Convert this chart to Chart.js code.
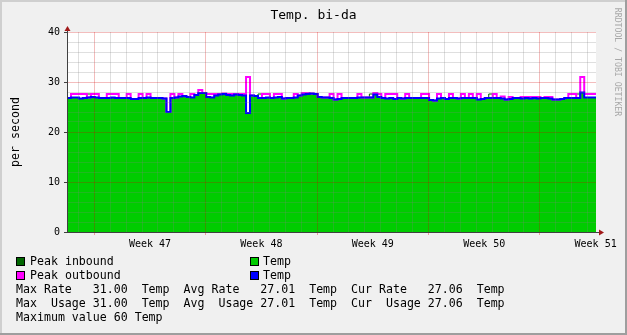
<!DOCTYPE html>
<html>
<head>
<meta charset="utf-8">
<title>Temp. bi-da</title>
<script src="https://cdn.jsdelivr.net/npm/chart.js@4.4.1/dist/chart.umd.min.js"></script>
<style>
  html, body { margin: 0; padding: 0; background: #f0f0f0; }
  canvas { display: block; }
</style>
</head>
<body>
<canvas id="tempChart" width="627" height="335"></canvas>
<script>
// one value per 6 hours (degrees)
const tempAvg = [
  26.8,26.9,26.9,26.7,26.8,26.9,27.0,26.9,26.8,26.8,
  26.8,26.9,26.8,26.8,26.8,26.8,26.6,26.6,26.8,26.8,
  26.9,26.8,26.8,26.8,26.7,24.0,26.8,26.9,27.1,27.2,
  27.0,26.9,27.4,27.8,27.8,27.0,26.9,27.3,27.5,27.6,
  27.4,27.3,27.5,27.4,27.3,23.8,27.3,27.2,26.8,26.8,
  26.9,26.8,26.9,27.0,26.7,26.8,26.8,26.9,27.3,27.5,
  27.6,27.7,27.6,27.0,26.9,26.9,26.8,26.5,26.6,26.8,
  26.8,26.8,26.8,26.9,26.9,26.9,26.9,27.5,27.0,26.8,
  26.7,26.8,26.6,26.8,26.7,26.8,26.8,26.8,26.8,26.8,
  26.8,26.4,26.3,26.7,26.8,26.6,26.8,26.8,26.7,26.8,
  26.8,26.8,26.8,26.5,26.6,26.8,26.8,26.8,26.8,26.7,
  26.5,26.6,26.8,26.8,26.7,26.8,26.7,26.8,26.7,26.8,
  26.8,26.7,26.5,26.5,26.6,26.8,26.8,26.8,26.8,27.9,
  26.9,26.9,26.9
];
const peakOut = [
  26.8,27.6,27.6,27.6,27.6,26.9,27.6,27.6,26.8,26.8,
  27.6,27.6,27.6,26.8,26.8,27.6,26.6,26.6,27.6,26.8,
  27.6,26.8,26.8,26.8,26.7,24.0,27.6,26.9,27.6,27.2,
  27.0,27.6,27.4,28.4,27.8,27.6,27.6,27.6,27.6,27.7,
  27.6,27.6,27.6,27.6,27.6,31.0,27.3,27.2,26.8,27.6,
  27.6,26.8,27.6,27.6,26.7,26.8,26.8,27.6,27.3,27.8,
  27.8,27.7,27.6,27.0,26.9,26.9,27.6,26.5,27.6,26.8,
  26.8,26.8,26.8,27.6,26.9,26.9,26.9,27.8,27.6,26.8,
  27.6,27.6,27.6,26.8,26.7,27.6,26.8,26.8,26.8,27.6,
  27.6,26.4,26.3,27.6,26.8,26.6,27.6,26.8,26.7,27.6,
  26.8,27.6,26.8,27.6,26.6,26.8,26.8,27.6,26.8,27.1,
  26.5,27.0,26.8,26.8,27.0,27.0,27.0,27.0,27.0,26.8,
  27.0,27.0,26.5,26.5,26.6,26.8,27.6,27.6,26.8,31.0,
  27.6,27.6,27.6
];
const peakIn = [
  26.8,26.9,26.9,26.7,26.8,27.6,27.0,26.9,26.8,26.8,
  26.8,26.9,26.8,26.8,26.8,26.8,26.6,26.6,26.8,26.8,
  26.9,26.8,26.8,26.8,26.7,24.0,26.8,26.9,27.1,27.2,
  27.0,26.9,27.4,27.8,27.8,27.0,26.9,27.3,27.5,27.6,
  27.4,27.3,27.5,27.4,27.3,23.8,27.3,27.2,27.6,26.8,
  26.9,26.8,26.9,27.0,26.7,26.8,26.8,26.9,27.3,27.5,
  27.6,27.7,27.6,27.0,26.9,26.9,26.8,26.5,26.6,26.8,
  26.8,26.8,26.8,26.9,26.9,26.9,27.6,27.5,27.0,26.8,
  26.7,26.8,26.6,26.8,26.7,26.8,26.8,26.8,26.8,26.8,
  26.8,26.4,26.3,26.7,26.8,26.6,26.8,26.8,26.7,26.8,
  26.8,26.8,26.8,26.5,26.6,26.8,27.6,26.8,26.8,26.7,
  26.5,26.6,26.8,26.8,26.7,26.8,26.7,26.8,26.7,26.8,
  26.8,26.7,26.5,26.5,26.6,26.8,26.8,26.8,27.6,27.9,
  26.9,26.9,26.9
];
const weekLabels = ['Week 47', 'Week 48', 'Week 49', 'Week 50', 'Week 51'];
const statNames = ['Max', 'Avg', 'Cur'];
const statValues = [31.00, 27.01, 27.06];
const maxValue = 60;

const stepDays = 0.25;      // sample spacing
const spanDays = 33.24;     // visible time range
const firstMonday = 1.715;  // first week line, in days from left edge

const toPoints = (arr) =>
  arr.map((v, i) => ({ x: i * stepDays, y: v })).concat([{ x: spanDays, y: arr[arr.length - 1] }]);

const dayLines = [];
for (let d = firstMonday - 1; d < spanDays; d += 1) dayLines.push(d);

const FONT = '"DejaVu Sans Mono", monospace';
Chart.defaults.font.family = FONT;

const RED_GRID = 'rgba(210,0,0,0.26)';
const GRAY_GRID = 'rgba(128,128,128,0.25)';
const AXIS = '#404040';

const decor = {
  id: 'decor',
  beforeDraw(chart) {
    const { ctx, chartArea: a, width, height } = chart;
    ctx.save();
    ctx.fillStyle = '#f0f0f0';
    ctx.fillRect(0, 0, width, height);
    ctx.fillStyle = '#cfcfcf';
    ctx.fillRect(0, 0, width, 2);
    ctx.fillRect(0, 0, 2, height);
    ctx.fillStyle = '#9e9e9e';
    ctx.fillRect(0, height - 2, width, 2);
    ctx.fillRect(width - 2, 0, 2, height);
    ctx.fillStyle = '#ffffff';
    ctx.fillRect(a.left, a.top, a.right - a.left, a.bottom - a.top);
    ctx.restore();
  },
  afterDraw(chart) {
    const { ctx, chartArea: a } = chart;
    const xs = chart.scales.x;
    ctx.save();

    // title
    ctx.fillStyle = '#000';
    ctx.font = '13px ' + FONT;
    ctx.textAlign = 'center';
    ctx.textBaseline = 'middle';
    ctx.fillText('Temp. bi-da', 313.5, 16);

    // week labels, centred in each week
    ctx.font = '10px ' + FONT;
    weekLabels.forEach((w, k) => {
      ctx.fillText(w, xs.getPixelForValue(firstMonday + 7 * k + 3.5), 244.5);
    });

    // vertical unit label
    ctx.save();
    ctx.translate(16, (a.top + a.bottom) / 2);
    ctx.rotate(-Math.PI / 2);
    ctx.font = '11.6px ' + FONT;
    ctx.fillText('per second', 0, 0);
    ctx.restore();

    // watermark
    ctx.save();
    ctx.translate(617, 62);
    ctx.rotate(Math.PI / 2);
    ctx.font = '8.2px ' + FONT;
    ctx.fillStyle = '#a8a8a8';
    ctx.fillText('RRDTOOL / TOBI OETIKER', 0, 0);
    ctx.restore();

    // axis extensions and arrows
    ctx.fillStyle = AXIS;
    ctx.fillRect(a.right, a.bottom, 4, 1);
    ctx.fillRect(a.left, a.top - 4, 1, 4);
    ctx.fillStyle = '#a01818';
    ctx.beginPath();
    ctx.moveTo(599, a.bottom - 2.5);
    ctx.lineTo(604, a.bottom + 0.5);
    ctx.lineTo(599, a.bottom + 3.5);
    ctx.closePath();
    ctx.fill();
    ctx.beginPath();
    ctx.moveTo(a.left - 2.5, a.top - 1);
    ctx.lineTo(a.left + 0.5, a.top - 6);
    ctx.lineTo(a.left + 3.5, a.top - 1);
    ctx.closePath();
    ctx.fill();

    // legend
    ctx.font = '11.6px ' + FONT;
    ctx.textAlign = 'left';
    ctx.fillStyle = '#000';
    const box = (x, y, c) => {
      ctx.fillStyle = c;
      ctx.fillRect(x, y, 9, 9);
      ctx.strokeStyle = '#000';
      ctx.lineWidth = 1;
      ctx.strokeRect(x + 0.5, y + 0.5, 8, 8);
      ctx.fillStyle = '#000';
    };
    box(16, 257, '#006600');
    ctx.fillText('Peak inbound', 30, 262);
    box(250, 257, '#00cc00');
    ctx.fillText('Temp', 263, 262);
    box(16, 271, '#ff00ff');
    ctx.fillText('Peak outbound', 30, 275.5);
    box(250, 271, '#0000ff');
    ctx.fillText('Temp', 263, 275.5);

    const rateLine = statNames.map((n, i) => n + ' Rate   ' + statValues[i].toFixed(2) + '  Temp').join('  ');
    const usageLine = statNames.map((n, i) => n + '  Usage ' + statValues[i].toFixed(2) + '  Temp').join('  ');
    ctx.fillText(rateLine, 16, 289.5);
    ctx.fillText(usageLine, 16, 303.5);
    ctx.fillText('Maximum value ' + maxValue + ' Temp', 16, 317.5);

    ctx.restore();
  }
};

const common = { stepped: true, pointRadius: 0, tension: 0, fill: false };

new Chart(document.getElementById('tempChart'), {
  type: 'line',
  data: {
    datasets: [
      Object.assign({ label: 'Temp', order: 0, data: toPoints(tempAvg), borderColor: '#0000ff', borderWidth: 2 }, common),
      Object.assign({ label: 'Peak outbound', order: 1, data: toPoints(peakOut), borderColor: '#ff00ff', borderWidth: 2 }, common),
      Object.assign({ label: 'Peak inbound', order: 2, data: toPoints(peakIn), borderColor: '#006600', borderWidth: 1 }, common),
      Object.assign({}, common, { label: 'Temp', order: 3, data: toPoints(tempAvg), borderWidth: 0, backgroundColor: '#00cc00', fill: 'origin' })
    ]
  },
  options: {
    responsive: false,
    animation: false,
    devicePixelRatio: 1,
    layout: { padding: { left: 0, right: 31, top: 32, bottom: 0 } },
    plugins: { legend: { display: false }, tooltip: { enabled: false } },
    scales: {
      x: {
        type: 'linear',
        min: 0,
        max: spanDays,
        afterBuildTicks: (s) => { s.ticks = dayLines.map((v) => ({ value: v })); },
        afterFit: (s) => { s.height = 103; },
        ticks: { display: false },
        grid: {
          z: 1,
          drawTicks: true,
          tickLength: 3,
          color: (c) => (c.index % 7 === 1 ? RED_GRID : GRAY_GRID),
          tickColor: (c) => (c.index % 7 === 1 ? 'rgba(230,0,0,0.35)' : 'rgba(0,0,0,0)')
        },
        border: { display: true, color: AXIS, width: 1, z: 2 }
      },
      y: {
        min: 0,
        max: 40,
        afterFit: (s) => { s.width = 67; },
        ticks: {
          stepSize: 2,
          autoSkip: false,
          padding: 4,
          color: '#000',
          font: { size: 10 },
          callback: (v) => (v % 10 === 0 ? v : '')
        },
        grid: {
          z: 1,
          drawTicks: true,
          tickLength: 3,
          color: (c) => (c.tick && c.tick.value % 10 === 0 ? RED_GRID : GRAY_GRID),
          tickColor: (c) => (c.tick && c.tick.value % 10 === 0 ? AXIS : 'rgba(0,0,0,0)')
        },
        border: { display: true, color: AXIS, width: 1, z: 2 }
      }
    }
  },
  plugins: [decor]
});
</script>
</body>
</html>
